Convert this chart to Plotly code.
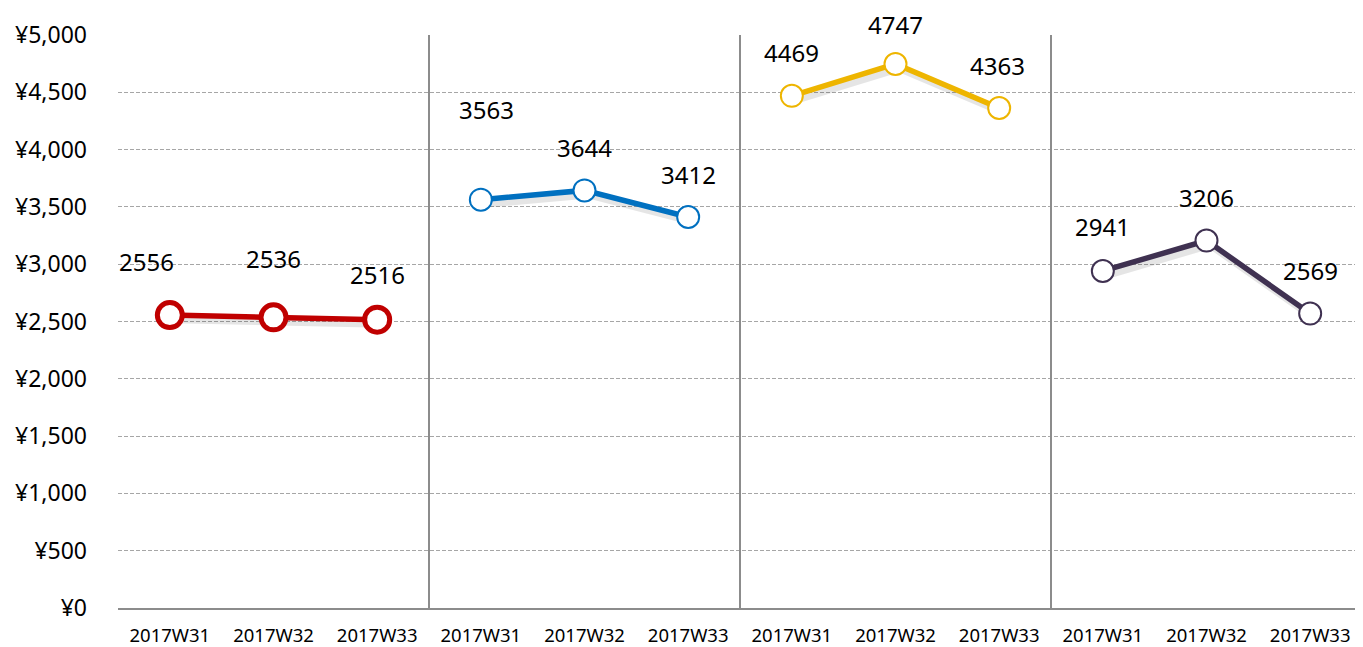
import plotly.graph_objects as go

weeks = ["2017W31", "2017W32", "2017W33"]
group_values = [
    [2556, 2536, 2516],
    [3563, 3644, 3412],
    [4469, 4747, 4363],
    [2941, 3206, 2569],
]
y_ticks = [0, 500, 1000, 1500, 2000, 2500, 3000, 3500, 4000, 4500, 5000]
y_tick_labels = ["¥" + f"{v:,}" for v in y_ticks]

# styles
colors = ["#C00000", "#0070C0", "#EEB500", "#3F3151"]
marker_sizes = [25, 22, 22, 22]
marker_line_widths = [5, 2, 2, 2]
# label offsets in pixels (dx, dy) relative to each point
label_offsets = [
    [(-23, -54), (0, -59), (0, -45)],
    [(6, -90), (0, -43), (0, -42)],
    [(0, -43), (0, -39), (-2, -43)],
    [(0, -44), (0, -43), (0, -43)],
]

FONT = "Noto Sans"
fig = go.Figure()

n = len(weeks)
annotations = []
for g, vals in enumerate(group_values):
    xs = [g * n + i for i in range(n)]
    # soft shadow
    fig.add_trace(go.Scatter(
        x=[x + 0.035 for x in xs], y=[v - 40 for v in vals], mode="lines",
        line=dict(color="rgba(0,0,0,0.10)", width=7),
        hoverinfo="skip", showlegend=False, cliponaxis=False,
    ))
    fig.add_trace(go.Scatter(
        x=xs, y=vals, mode="lines+markers",
        line=dict(color=colors[g], width=5.5),
        marker=dict(size=marker_sizes[g], color="white",
                    line=dict(color=colors[g], width=marker_line_widths[g])),
        showlegend=False, cliponaxis=False,
    ))
    for i, v in enumerate(vals):
        dx, dy = label_offsets[g][i]
        annotations.append(dict(
            x=xs[i], y=v, xref="x", yref="y", text=str(v), showarrow=False,
            xshift=dx, yshift=-dy, borderpad=0,
            font=dict(family=FONT, size=24, color="#000000"),
        ))

shapes = []
for g in range(1, len(group_values)):
    shapes.append(dict(
        type="line", xref="x", yref="y", x0=g * n - 0.5, x1=g * n - 0.5,
        y0=0, y1=y_ticks[-1], line=dict(color="#8c8c8c", width=2), layer="above",
    ))

# page body has an 8px margin, so the figure is sized to fit the window
fig.update_layout(
    width=1355, height=639,
    margin=dict(l=110, r=1, t=27, b=39),
    paper_bgcolor="white", plot_bgcolor="white",
    annotations=annotations, shapes=shapes,
    font=dict(family=FONT, color="#000000"),
)
fig.update_xaxes(
    range=[-0.5, len(group_values) * n - 0.5],
    tickmode="array", tickvals=list(range(len(group_values) * n)),
    ticktext=weeks * len(group_values),
    tickfont=dict(family=FONT, size=18.5, color="#000000"),
    showline=True, linecolor="#8c8c8c", linewidth=2,
    showgrid=False, zeroline=False, ticks="", ticklabelstandoff=10,
)
fig.update_yaxes(
    range=[0, y_ticks[-1]], tickmode="array", tickvals=y_ticks,
    ticktext=y_tick_labels,
    tickfont=dict(family=FONT, size=23, color="#000000"),
    showgrid=True, gridcolor="#a6a6a6", gridwidth=1, griddash="4px,2px",
    zeroline=False, showline=False, ticks="", ticklabelstandoff=30,
)

fig.write_html("out.html")
